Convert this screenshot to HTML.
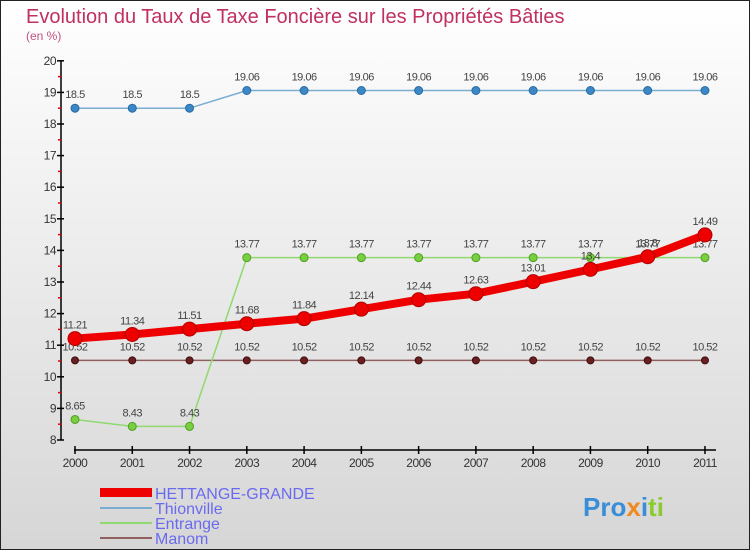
<!DOCTYPE html>
<html><head><meta charset="utf-8"><style>
body{margin:0;}
svg{display:block;font-family:"Liberation Sans","DejaVu Sans",sans-serif;}
</style></head><body>
<svg id="c" width="750" height="550" xmlns="http://www.w3.org/2000/svg">
<defs><linearGradient id="bg" x1="0" y1="0" x2="0" y2="1"><stop offset="0" stop-color="#ffffff"/><stop offset="1" stop-color="#d6d6d6"/></linearGradient></defs>
<rect x="0.5" y="0.5" width="749" height="549" fill="url(#bg)" stroke="#222"/>
<text x="26" y="23" font-size="20" fill="#c03060">Evolution du Taux de Taxe Foncière sur les Propriétés Bâties</text>
<text x="26" y="40" font-size="12" fill="#c05080">(en %)</text>
<g id="axes"></g>
<g id="series"></g>
<g>
<rect x="100" y="488" width="52" height="9" fill="#ee0000"/>
<text x="155" y="499" font-size="16" fill="#6a6af0">HETTANGE-GRANDE</text>
<line x1="100" y1="508" x2="152" y2="508" stroke="#7aaed0" stroke-width="2"/>
<text x="155" y="514" font-size="16" fill="#6a6af0">Thionville</text>
<line x1="100" y1="523" x2="152" y2="523" stroke="#90d870" stroke-width="2"/>
<text x="155" y="529" font-size="16" fill="#6a6af0">Entrange</text>
<line x1="100" y1="538" x2="152" y2="538" stroke="#906060" stroke-width="2"/>
<text x="155" y="544" font-size="16" fill="#6a6af0">Manom</text>
</g>
<text x="583" y="516" font-size="26" font-weight="600"><tspan fill="#3a8ed8">Pro</tspan><tspan fill="#f08a20">x</tspan><tspan fill="#3a8ed8">i</tspan><tspan fill="#8acc30">ti</tspan></text>
</svg>
<script>
const years=[2000,2001,2002,2003,2004,2005,2006,2007,2008,2009,2010,2011];
const hettange=[11.21,11.34,11.51,11.68,11.84,12.14,12.44,12.63,13.01,13.4,13.8,14.49];
const thionville=[18.5,18.5,18.5,19.06,19.06,19.06,19.06,19.06,19.06,19.06,19.06,19.06];
const entrange=[8.65,8.43,8.43,13.77,13.77,13.77,13.77,13.77,13.77,13.77,13.77,13.77];
const manom=[10.52,10.52,10.52,10.52,10.52,10.52,10.52,10.52,10.52,10.52,10.52,10.52];
const yTicks=[8,9,10,11,12,13,14,15,16,17,18,19,20];
const NS="http://www.w3.org/2000/svg";
const xs=i=>75+i*57.27;
const ys=v=>440-(v-8)*31.6;
function mk(p,t,a){const e=document.createElementNS(NS,t);for(const k in a)e.setAttribute(k,a[k]);p.appendChild(e);return e;}
const ax=document.getElementById('axes');
let l=mk(ax,'line',{x1:61,y1:ys(20),x2:61,y2:ys(8),stroke:'#000','stroke-width':1.5});


yTicks.forEach(v=>{
 let t=mk(ax,'line',{x1:57,y1:ys(v),x2:64,y2:ys(v),stroke:'#000','stroke-width':1.5});
 
 
 if(v<20){let m=mk(ax,'line',{x1:58,y1:ys(v+0.5),x2:61,y2:ys(v+0.5),stroke:'#e00','stroke-width':1.5});
 
 }
 let tx=mk(ax,'text',{x:56,y:ys(v)+4,'text-anchor':'end','font-size':12,fill:'#333','letter-spacing':'-0.5'});
 tx.textContent=v;
 
 
});
l=mk(ax,'line',{x1:74,y1:450,x2:716,y2:450,stroke:'#000','stroke-width':1.5});


years.forEach((y,i)=>{
 let t=mk(ax,'line',{x1:xs(i),y1:446,x2:xs(i),y2:454,stroke:'#000','stroke-width':1.5});
 
 
 let tx=mk(ax,'text',{x:xs(i),y:467,'text-anchor':'middle','font-size':12,fill:'#333','letter-spacing':'-0.5'});
 tx.textContent=y;
 
 
});
const sg=document.getElementById('series');
function series(name,vals,color,dot,w,r,stroke){
 const g=mk(sg,'g',{});
 
 
 let pl=mk(g,'polyline',{points:vals.map((v,i)=>xs(i)+','+ys(v)).join(' '),fill:'none',stroke:color,'stroke-width':w,'stroke-linejoin':'round'});
 
 
 vals.forEach((v,i)=>{
  let c=mk(g,'circle',{cx:xs(i),cy:ys(v),r:r,fill:dot,stroke:stroke,'stroke-width':1});
  
  
  let t=mk(g,'text',{x:xs(i),y:ys(v)-10,'text-anchor':'middle','font-size':11,fill:'#444','letter-spacing':'-0.5'});
  t.textContent=v;
  
  
 });
}
series('thionville',thionville,'#7aaed0','#3a88c8',1.5,4,'#2a6aa0');
series('manom',manom,'#906060','#6a2020',1.5,3.5,'#401010');
series('entrange',entrange,'#90d870','#78d040',1.5,4,'#50a020');
series('hettange',hettange,'#ee0000','#ee0000',8,7,'#b00000');
</script>
</body></html>
